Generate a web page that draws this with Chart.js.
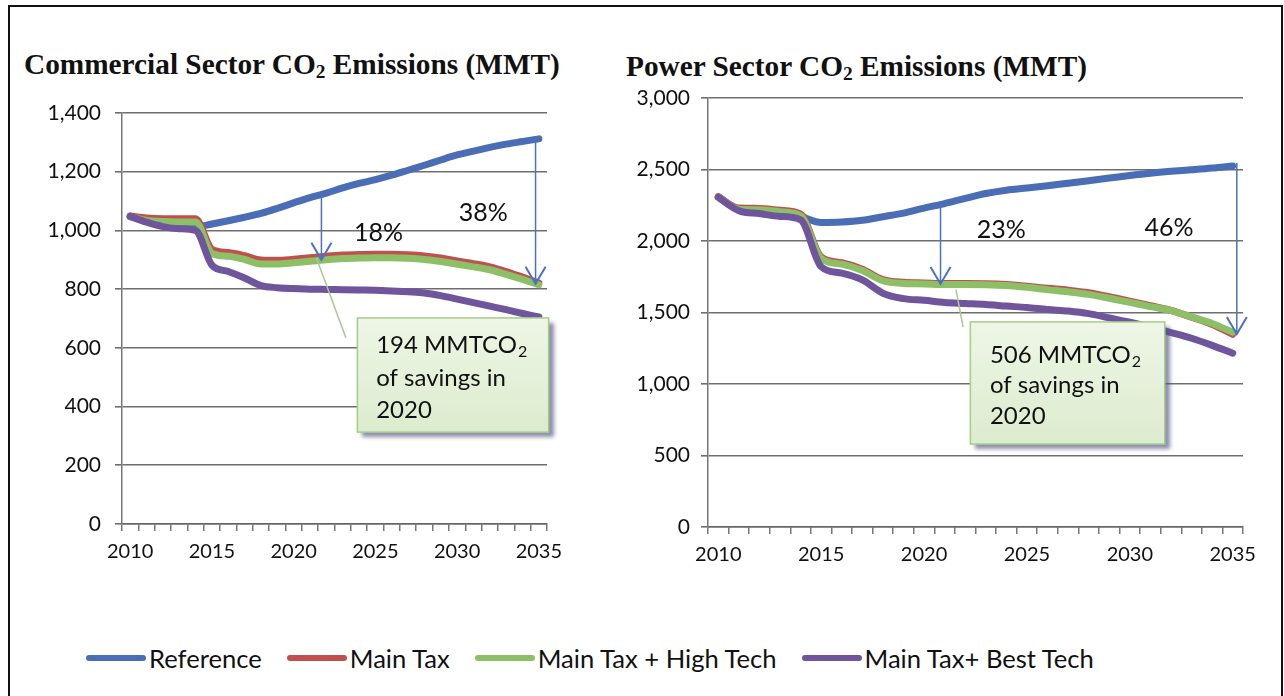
<!DOCTYPE html>
<html><head><meta charset="utf-8">
<script src="https://cdn.jsdelivr.net/npm/chart.js@4/dist/chart.umd.min.js"></script>
<style>
html,body{margin:0;padding:0;background:#fff;}
body{width:1284px;height:696px;position:relative;overflow:hidden;font-family:Lato,sans-serif;}
#frame{position:absolute;left:8px;top:5px;width:1271px;height:720px;border:2px solid #111;border-bottom:none;}
.title{position:absolute;font-family:'Liberation Serif',serif;font-weight:bold;font-size:29.3px;line-height:29px;color:#111;white-space:nowrap;}
.title sub{font-size:0.66em;vertical-align:-0.22em;line-height:0;}
.wrap{position:absolute;top:0;height:600px;}
#legend{position:absolute;top:643px;left:86px;display:flex;align-items:center;font-family:Lato,sans-serif;font-size:25.6px;color:#111;white-space:nowrap;}
.item{display:flex;align-items:center;margin-right:25px;}
.sw{width:60px;height:6px;border-radius:3px;margin-right:3px;}
</style></head>
<body>
<div id="frame"></div>
<div class="title" style="left:24px;top:50px;">Commercial Sector CO<sub>2</sub> Emissions (MMT)</div>
<div class="title" style="left:626px;top:52px;">Power Sector CO<sub>2</sub> Emissions (MMT)</div>
<div class="wrap" style="left:0;width:620px;"><canvas id="c1" width="620" height="600"></canvas></div>
<div class="wrap" style="left:620px;width:664px;"><canvas id="c2" width="664" height="600"></canvas></div>
<div id="legend"></div>
<script>
// ---- data ----
const years = [2010,2011,2012,2013,2014,2015,2016,2017,2018,2019,2020,2021,2022,2023,2024,2025,2026,2027,2028,2029,2030,2031,2032,2033,2034,2035];
const xTickLabels = [2010,2015,2020,2025,2030,2035];
const seriesNames = ['Reference','Main Tax','Main Tax + High Tech','Main Tax+ Best Tech'];

// Commercial sector (MMT)
const commercialReference = [1048,1032,1022,1015,1012,1022,1033,1045,1058,1075,1094,1112,1127,1145,1160,1173,1188,1205,1222,1240,1257,1270,1283,1294,1303,1312];
const commercialMainTax   = [1049,1042,1040,1040,1040,936,925,914,899,898,902,907,912,916,918,919,919,917,913,906,896,887,876,860,841,821];
const commercialHighTech  = [1046,1034,1030,1029,1029,922,912,901,886,886,890,895,900,904,906,907,907,905,901,894,885,876,866,850,833,815];
const commercialBestTech  = [1048,1028,1013,1006,1000,882,860,838,812,805,802,800,799,798,797,796,794,791,787,778,766,754,742,730,717,705];
const commercialYTicks = [0,200,400,600,800,1000,1200,1400];

// Power sector (MMT)
const powerReference = [2310,2220,2212,2196,2172,2130,2133,2145,2170,2195,2230,2262,2298,2332,2355,2370,2386,2404,2422,2440,2458,2474,2487,2498,2510,2525];
const powerMainTax   = [2310,2230,2228,2215,2188,1888,1848,1803,1731,1711,1707,1703,1703,1701,1695,1684,1669,1656,1638,1610,1579,1547,1515,1467,1416,1348];
const powerHighTech  = [2306,2222,2219,2205,2177,1878,1838,1794,1722,1703,1700,1696,1696,1694,1688,1676,1660,1645,1627,1600,1571,1541,1513,1469,1423,1362];
const powerBestTech  = [2305,2212,2192,2172,2148,1820,1775,1728,1635,1597,1585,1570,1563,1556,1545,1535,1521,1510,1492,1462,1432,1398,1360,1320,1270,1215];
const powerYTicks = [0,500,1000,1500,2000,2500,3000];

// annotations
const commercialSavings = ['194 MMTCO', '2', 'of savings in', '2020'];
const commercialPercents = ['18%','38%'];
const powerSavings = ['506 MMTCO', '2', 'of savings in', '2020'];
const powerPercents = ['23%','46%'];

// ---- styling ----
const colors = ['#4a6db5','#c0504d','#8dbf66','#6e559c'];
const FONT = 'Lato, sans-serif';

// legend (HTML)
const lg = document.getElementById('legend');
seriesNames.forEach((n,i)=>{
  const it=document.createElement('div'); it.className='item';
  const sw=document.createElement('div'); sw.className='sw'; sw.style.background=colors[i];
  const t=document.createElement('span'); t.textContent=n;
  it.appendChild(sw); it.appendChild(t); lg.appendChild(it);
});

const annotPlugin = {
  id:'annot',
  afterDatasetsDraw(chart, args, o){
    const ctx=chart.ctx, x=chart.scales.x, y=chart.scales.y;
    const X=v=>x.getPixelForValue(v), Y=v=>y.getPixelForValue(v);
    ctx.save();
    // pointer line
    ctx.strokeStyle='#a9c996'; ctx.lineWidth=1.5;
    ctx.beginPath(); ctx.moveTo(X(o.pointer[0]),Y(o.pointer[1])); ctx.lineTo(X(o.pointer[2]),Y(o.pointer[3])); ctx.stroke();
    // arrows
    o.arrows.forEach(a=>{
      const px=X(a[0]), y1=Y(a[1]), y2=Y(a[2]);
      ctx.strokeStyle='#4a72c0'; ctx.lineWidth=1.5;
      ctx.beginPath(); ctx.moveTo(px,y1); ctx.lineTo(px,y2); ctx.stroke();
      ctx.lineWidth=2;
      ctx.beginPath(); ctx.moveTo(px-10,y2-17); ctx.lineTo(px,y2); ctx.lineTo(px+10,y2-17); ctx.stroke();
    });
    // percents
    ctx.fillStyle='#111'; ctx.font='25px '+FONT; ctx.textAlign='center'; ctx.textBaseline='middle';
    o.percents.forEach((p,i)=>{ ctx.fillText(p, X(o.percentPos[i][0]), Y(o.percentPos[i][1])); });
    // callout box
    const bx=X(o.box[0]), by=Y(o.box[1]), bw=X(o.box[2])-bx, bh=Y(o.box[3])-by;
    ctx.save();
    ctx.shadowColor='rgba(80,80,130,0.65)'; ctx.shadowOffsetX=5; ctx.shadowOffsetY=5; ctx.shadowBlur=4;
    const g=ctx.createLinearGradient(bx,by,bx,by+bh);
    g.addColorStop(0,'#eef6e6'); g.addColorStop(1,'#dcecce');
    ctx.fillStyle=g; ctx.fillRect(bx,by,bw,bh);
    ctx.restore();
    ctx.strokeStyle='#a6cc8a'; ctx.lineWidth=1.5; ctx.strokeRect(bx,by,bw,bh);
    // callout text
    const tx=X(o.textX);
    ctx.fillStyle='#111'; ctx.textAlign='left'; ctx.textBaseline='middle'; ctx.font='24px '+FONT;
    const l1=Y(o.textY[0]);
    ctx.fillText(o.text[0], tx, l1);
    const w=ctx.measureText(o.text[0]).width;
    ctx.font='16px '+FONT; ctx.fillText(o.text[1], tx+w+1, l1+7);
    ctx.font='24px '+FONT;
    ctx.fillText(o.text[2], tx, Y(o.textY[1]));
    ctx.fillText(o.text[3], tx, Y(o.textY[2]));
    ctx.restore();
  }
};

function makeChart(id, data, yTicks, axisW, pad, tickPad, ann){
  const yMax = yTicks[yTicks.length-1];
  return new Chart(document.getElementById(id), {
    type:'line',
    data:{labels:years, datasets:data.map((d,i)=>({
      label:seriesNames[i], data:d, borderColor:colors[i], backgroundColor:colors[i],
      borderWidth:7, pointRadius:0, cubicInterpolationMode:'monotone', borderCapStyle:'round', borderJoinStyle:'round',
      order:4-i
    }))},
    options:{
      responsive:false, animation:false, events:[],
      layout:{padding:pad},
      plugins:{legend:{display:false}, tooltip:{enabled:false}, annot:ann},
      scales:{
        x:{type:'category', offset:true,
          grid:{offset:true, drawOnChartArea:false, drawTicks:true, tickLength:7, color:'#777', lineWidth:1.5},
          border:{display:true,color:'#666',width:1.5},
          ticks:{autoSkip:false, maxRotation:0, padding:9, color:'#111', font:{family:FONT,size:20},
            callback:(v,i)=> xTickLabels.includes(years[i]) ? String(years[i]) : ''},
          afterFit:s=>{s.height=40;}
        },
        y:{min:0, max:yMax,
          afterBuildTicks:s=>{s.ticks=yTicks.map(v=>({value:v}));},
          grid:{color:'#6e6e6e', lineWidth:1.6, tickLength:7},
          border:{display:true,color:'#777',width:1.5},
          ticks:{padding:tickPad, color:'#111', font:{family:FONT,size:21}, callback:v=>v.toLocaleString('en-US')},
          afterFit:s=>{s.width=axisW;}
        }
      }
    },
    plugins:[annotPlugin]
  });
}

makeChart('c1',[commercialReference,commercialMainTax,commercialHighTech,commercialBestTech], commercialYTicks, 122,
  {left:0,right:73,top:113,bottom:36}, 14,
  {arrows:[[11.7,1118,900],[24.8,1305,818]],
   percents:commercialPercents, percentPos:[[15.2,991],[21.6,1059]],
   pointer:[11.4,905,13.2,634],
   box:[13.9,702,25.6,313], text:commercialSavings, textX:15.05, textY:[610,497,388]});

makeChart('c2',[powerReference,powerMainTax,powerHighTech,powerBestTech], powerYTicks, 88,
  {left:0,right:41,top:98,bottom:33}, 11,
  {arrows:[[10.8,2258,1700],[25.2,2545,1350]],
   percents:powerPercents, percentPos:[[13.75,2077],[21.9,2091]],
   pointer:[11.55,1660,11.9,1398],
   box:[12.25,1434,21.7,580], text:powerSavings, textX:13.2, textY:[1203,993,776]});
</script>
</body></html>
